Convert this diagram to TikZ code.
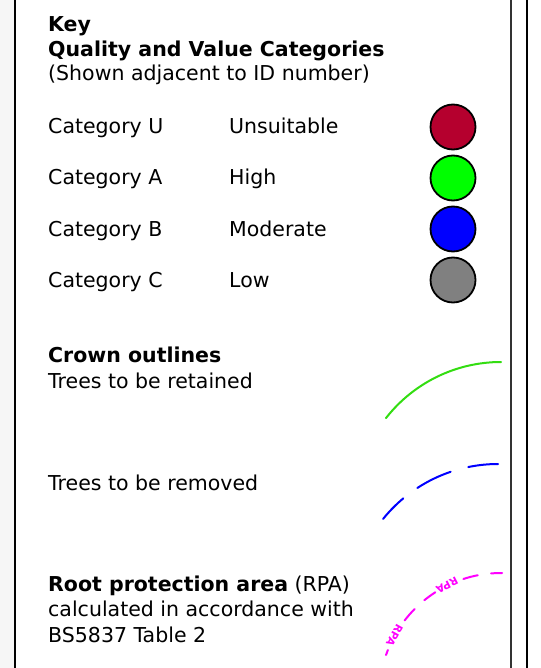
\documentclass[tikz,border=0pt]{standalone}
\usepackage{fontspec}
\setmainfont{DejaVu Sans}
\usetikzlibrary{calc}
\begin{document}
\begin{tikzpicture}[x=1pt,y=1pt,
  keytext/.style={anchor=base west,inner sep=0pt,font=\fontsize{20.5}{24}\selectfont},
  keyhead/.style={keytext,font=\fontsize{20.5}{24}\selectfont\bfseries},
  swatch/.style={circle,draw=black,line width=1.8pt,minimum size=45pt,inner sep=0pt},
  frameline/.style={line width=1.6pt,black},
  rpatext/.style={text=rpacol,inner sep=0pt,font=\fontsize{10.5}{10.5}\selectfont\bfseries}]
\definecolor{catU}{HTML}{B5002E}
\definecolor{catA}{HTML}{00FF00}
\definecolor{catB}{HTML}{0000FF}
\definecolor{catC}{HTML}{808080}
\definecolor{retain}{HTML}{33DD11}
\definecolor{rpacol}{HTML}{FF00FF}
\definecolor{sidegray}{HTML}{F6F6F6}
\useasboundingbox (0,0) rectangle (540,-668);
\fill[white] (0,0) rectangle (540,-668);
\fill[sidegray] (0,0) rectangle (14,-668);
% frame lines
\coordinate (lt) at (15,0); \coordinate (lb) at (15,-668);
\coordinate (rt) at (511,0); \coordinate (rb) at (511,-668);
\coordinate (ot) at (527,0); \coordinate (ob) at (527,-668);
\draw[frameline] (lt) -- (lb);
\draw[frameline,black!80] (rt) -- (rb);
\draw[frameline] (ot) -- (ob);
% headings
\node[keyhead] (key) at (48,-32) {Key};
\node[keyhead] (qv) at (48,-57) {Quality and Value Categories};
\node[keytext] (shown) at (48,-81) {(Shown adjacent to ID number)};
% categories
\node[keytext] (cu) at (48,-134) {Category U};
\node[keytext] (ca) at (48,-185) {Category A};
\node[keytext] (cb) at (48,-236) {Category B};
\node[keytext] (cc) at (48,-287) {Category C};
\node[keytext] (du) at (229,-134) {Unsuitable};
\node[keytext] (da) at (229,-185) {High};
\node[keytext] (db) at (229,-236) {Moderate};
\node[keytext] (dc) at (229,-287) {Low};
\node[swatch,fill=catU] (su) at (453,-127) {};
\node[swatch,fill=catA] (sa) at (453,-178) {};
\node[swatch,fill=catB] (sb) at (453,-229) {};
\node[swatch,fill=catC] (sc) at (453,-280) {};
% crown outlines
\node[keyhead] (crown) at (48,-362) {Crown outlines};
\node[keytext] (ret) at (48,-388) {Trees to be retained};
\node[keytext] (rem) at (48,-490) {Trees to be removed};
\coordinate (gc) at (501,-508);
\draw[retain,line width=2pt,line cap=round] (gc)+(142:146) arc[start angle=142,end angle=90,radius=146];
\coordinate (bc) at (498,-611.7);
\foreach \a/\b in {141.1/129.9,123.1/108.7,101.6/90}
  \draw[catB,line width=2pt,line cap=round] (bc)+(\a:147.7) arc[start angle=\a,end angle=\b,radius=147.7];
% root protection area
\node[keytext] (rpa) at (48,-591) {\textbf{Root protection area} (RPA)};
\node[keytext] (calc) at (48,-616) {calculated in accordance with};
\node[keytext] (bs) at (48,-642) {BS5837 Table 2};
\coordinate (mc) at (501,-694.6);
\foreach \a/\b in {161/158.5,142.4/135.3,129.1/122.7,108/101,94.7/89.5}
  \draw[rpacol,line width=2pt,line cap=round] (mc)+(\a:121.6) arc[start angle=\a,end angle=\b,radius=121.6];
\node[rpatext,rotate=241] (rpa1) at ($(mc)+(151:121.6)$) {RPA};
\node[rpatext,rotate=207] (rpa2) at ($(mc)+(116.3:121.6)$) {RPA};
\end{tikzpicture}
\end{document}
